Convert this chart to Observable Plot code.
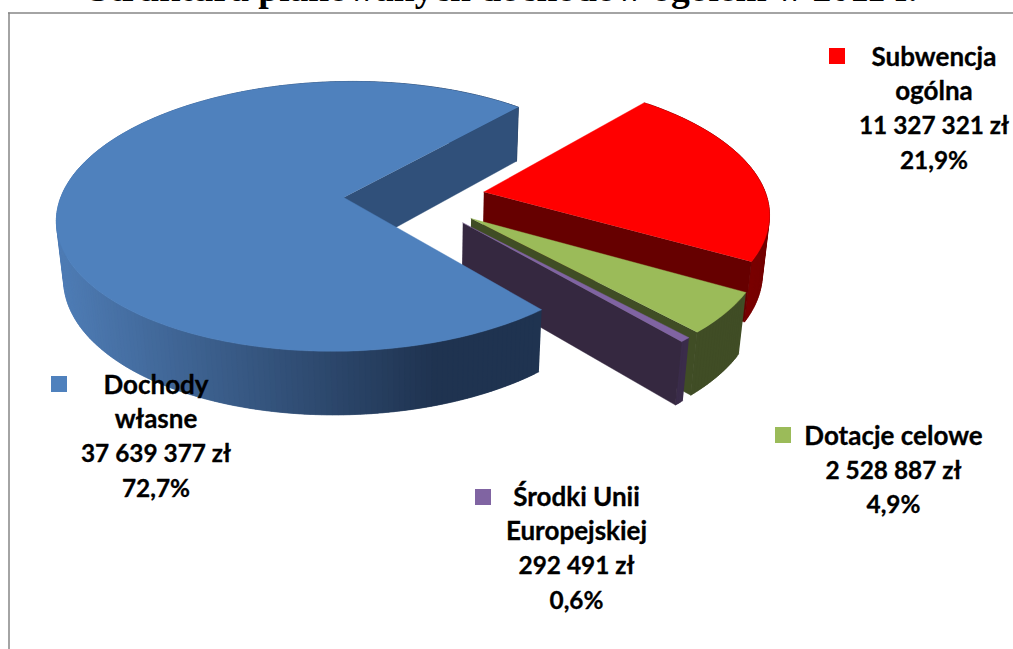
<!DOCTYPE html>
<html lang="pl">
<head>
<meta charset="utf-8">
<style>html,body{margin:0;padding:0;background:#fff;overflow:hidden}svg{display:block}</style>
<script src="https://cdn.jsdelivr.net/npm/d3@7"></script>
<script src="https://cdn.jsdelivr.net/npm/@observablehq/plot@0.6"></script>
</head>
<body>
<div id="chart"></div>
<script>
// Data, clockwise on screen from the far edge of the red slice
const categories = [["Subwencja","ogólna"],["Dotacje celowe"],["Środki Unii","Europejskiej"],["Dochody","własne"]];
const amounts = [11327321, 2528887, 292491, 37639377];
const shares = [21.9, 4.9, 0.6, 72.7];
const chartTitle = "Struktura planowanych dochodów ogółem w 2011 r.";

// Styles
const topColors = ["#ff0000","#9bbb59","#8064a2","#4f81bd"];
const wallColors = ["#660000","#404d25","#352840","#30507a"];
const rimColors = [["#660000","#7a0000"],["#404d25","#404d25"],["#3a2c4a","#3a2c4a"],["#4f7db6","#1f3350"]];
const labelCenters = [[933.5,57],[893,436],[576,497],[155.5,385]];
const swatchCorners = [[829,48],[775,427],[475,489],[51,376]];

// Pie geometry (a 3D camera on the flat pie)
const startAngle = -49, explode = 0.25;
const x0 = 414, y0 = 197, q = 283, p = 132.3, d = 59, k = 0.1407, m = 0.02;
const rad = a => a * Math.PI / 180;
const project = (X, Y, Z) => { const s = 1 / (1 - k * Y + m * Z); return [x0 + q * X * s, y0 + (p * Y + d * Z) * s]; };

const total = d3.sum(amounts);
let cursor = startAngle;
const slices = amounts.map((v, i) => {
  const a0 = cursor, a1 = cursor + v / total * 360; cursor = a1;
  const mid = rad((a0 + a1) / 2);
  return {i, a0, a1, cx: explode * Math.cos(mid), cy: explode * Math.sin(mid)};
});
const rim = (s, a, Z) => project(s.cx + Math.cos(rad(a)), s.cy + Math.sin(rad(a)), Z);

const rows = [];
let faceId = 0;
const addFace = (pts, tone) => { const z = faceId++; pts.forEach(([x, y]) => rows.push({x, y, z, tone})); };
const blueTone = d3.scaleLinear().domain([55, 440]).range(rimColors[3]).clamp(true).interpolate(d3.interpolateRgb);

for (const s of slices) {
  const n = Math.max(2, Math.ceil((s.a1 - s.a0) / 1));
  const step = (s.a1 - s.a0) / n;
  const angles = d3.range(n + 1).map(j => s.a0 + step * j);
  const c = [project(s.cx, s.cy, 0), project(s.cx, s.cy, 1)];
  // rim wall, cut in narrow overlapping strips to carry the shading
  for (let j = n - 1; j >= 0; j--) {
    const a = angles[j], b = angles[j + 1], over = Math.min(s.a1, b + step);
    const A = rim(s, a, 0), B = rim(s, b, 0);
    const tone = s.i === 3 ? blueTone((A[0] + B[0]) / 2)
      : d3.interpolateRgb(rimColors[s.i][0], rimColors[s.i][1])(j / n);
    addFace([A, rim(s, over, 0), rim(s, over, 1), rim(s, a, 1)], tone);
  }
  // radial wall at the end of the sweep
  addFace([c[0], rim(s, s.a1, 0), rim(s, s.a1, 1), c[1]], wallColors[s.i]);
  // top face
  addFace([c[0], ...angles.map(a => rim(s, a, 0))], topColors[s.i]);
}

const fmt = d3.formatLocale({decimal: ",", thousands: " ", grouping: [3], currency: ["", ""]});
const labelRows = categories.flatMap((names, i) => {
  const lines = [...names.map(text => ({text, size: 26})),
    {text: fmt.format(",d")(amounts[i]) + " zł", size: 24.4},
    {text: fmt.format(".1f")(shares[i]) + "%", size: 24.4}];
  return lines.map((l, j) => ({x: labelCenters[i][0], y: labelCenters[i][1] + j * 34.4, ...l}));
});
const swatches = swatchCorners.map(([x, y], i) => ({x1: x, x2: x + 16, y1: y, y2: y + 16, tone: topColors[i]}));
const labelStyle = {x: "x", y: "y", text: "text", textAnchor: "middle", lineAnchor: "middle", fill: "#000",
  stroke: "#000", strokeWidth: 0.3, fontFamily: "Lato", fontWeight: 700};

const chart = Plot.plot({
  width: 1013, height: 649,
  marginTop: 0, marginRight: 0, marginBottom: 0, marginLeft: 0,
  x: {domain: [0, 1013], range: [0, 1013], axis: null},
  y: {domain: [0, 649], range: [0, 649], axis: null},
  color: {type: "identity"},
  style: {background: "#fff"},
  marks: [
    Plot.ruleX([8.5], {y1: 12.5, y2: 649, stroke: "#868686", strokeWidth: 1.5}),
    Plot.ruleY([12.5], {x1: 8, x2: 1013, stroke: "#868686", strokeWidth: 1.5}),
    Plot.line(rows, {x: "x", y: "y", z: "z", fill: "tone", stroke: "tone", strokeWidth: 0.4, curve: "linear"}),
    Plot.rect(swatches, {x1: "x1", x2: "x2", y1: "y1", y2: "y2", fill: "tone"}),
    Plot.text(labelRows.filter(r => r.size === 26), {...labelStyle, fontSize: 26}),
    Plot.text(labelRows.filter(r => r.size !== 26), {...labelStyle, fontSize: 24.4}),
    Plot.text([chartTitle], {x: [88], y: [0], text: d => d, textAnchor: "start", lineAnchor: "bottom", fill: "#000",
      fontFamily: "Liberation Serif", fontWeight: 700, fontSize: 37.5})
  ]
});
document.getElementById("chart").append(chart);
</script>
</body>
</html>
